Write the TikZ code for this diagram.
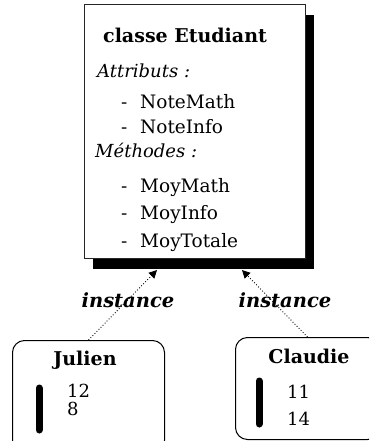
\documentclass[tikz,border=0pt]{standalone}
\usepackage{fontspec}
\setmainfont{DejaVu Serif}
\usetikzlibrary{arrows.meta,shadows}
\newcommand{\itemdash}{\makebox[19pt][l]{-}}
\begin{document}
\begin{tikzpicture}[x=1pt,y=-1pt,
  clsbox/.style={draw=black!85, line width=1.3pt, fill=white, anchor=north west,
    minimum width=221pt, minimum height=254pt, inner sep=0pt,
    drop shadow={shadow xshift=8pt, shadow yshift=-10pt, fill=black, opacity=1}},
  objbox/.style={draw=black, line width=1pt, rounded corners=12pt, anchor=north west, inner sep=0pt},
  txt/.style={anchor=base west, inner sep=0pt},
  titlefont/.style={font=\fontsize{19}{22}\selectfont\bfseries},
  itfont/.style={font=\fontsize{18}{21}\selectfont\itshape},
  itemfont/.style={font=\fontsize{18.5}{21}\selectfont},
  numfont/.style={font=\fontsize{18}{21}\selectfont},
  instfont/.style={font=\fontsize{19.5}{22}\selectfont\bfseries\itshape},
  conn/.style={dotted, line width=0.9pt, -{Triangle[length=8pt,width=8pt]}},
  bar/.style={line width=7pt, line cap=round}
]
\clip (0,0) rectangle (369,441);
% class box
\node[clsbox] (cls) at (84,4) {};
\node[txt,titlefont] (title) at (103,43) {classe Etudiant};
\node[txt,itfont] (attr) at (97,78) {Attributs :};
\node[txt,itemfont] (a1) at (121,109) {\itemdash NoteMath};
\node[txt,itemfont] (a2) at (121,133) {\itemdash NoteInfo};
\node[txt,itfont] (meth) at (95,157) {Méthodes :};
\node[txt,itemfont] (m1) at (121,192) {\itemdash MoyMath};
\node[txt,itemfont] (m2) at (121,219) {\itemdash MoyInfo};
\node[txt,itemfont] (m3) at (121,247) {\itemdash MoyTotale};
% object boxes
\node[objbox, minimum width=152pt, minimum height=112pt] (jul) at (12,340) {};
\node[objbox, minimum width=144pt, minimum height=102pt] (cla) at (235,337) {};
\node[anchor=base, inner sep=0pt, titlefont] (jname) at (85,365) {Julien};
\node[txt,numfont] (j1) at (67,397) {12};
\node[txt,numfont] (j2) at (67,415) {8};
\node[anchor=base, inner sep=0pt, titlefont] (cname) at (309,363) {Claudie};
\node[txt,numfont] (c1) at (287,398) {11};
\node[txt,numfont] (c2) at (287,425) {14};
\coordinate (jb1) at (39,388); \coordinate (jb2) at (39,430);
\coordinate (cb1) at (259,381); \coordinate (cb2) at (259,424);
\draw[bar] (jb1) -- (jb2);
\draw[bar] (cb1) -- (cb2);
% connectors
\coordinate (tipJ) at (157,270);
\coordinate (tipC) at (242,270);
\draw[conn] (jul.north) -- (tipJ);
\draw[conn] (cla.north) -- (tipC);
\node[inner sep=0pt, instfont] (instJ) at (128,300) {instance};
\node[inner sep=0pt, instfont] (instC) at (285,300) {instance};
\end{tikzpicture}
\end{document}
